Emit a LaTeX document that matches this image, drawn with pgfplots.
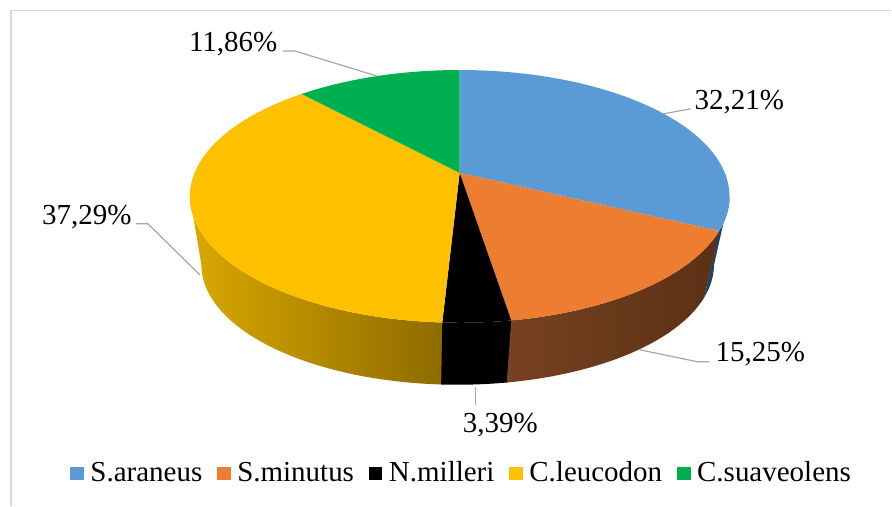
\documentclass[border=0pt]{standalone}
\usepackage{pgfplots}
\usepackage{pgfplotstable}
\pgfplotsset{compat=1.18}
\usepackage{fontspec}
\setmainfont{Liberation Serif}
\definecolor{cBlue}{HTML}{5B9BD5}
\definecolor{cOrange}{HTML}{ED7D31}
\definecolor{cYellow}{HTML}{FFC000}
\definecolor{cGreen}{HTML}{00B050}
\definecolor{cLead}{HTML}{A6A6A6}
\definecolor{cFrame}{HTML}{D9D9D9}
\definecolor{cYsideL}{HTML}{DAA800}
\definecolor{cYsideR}{HTML}{8C6A00}
\definecolor{cOsideL}{HTML}{784220}
\definecolor{cOsideR}{HTML}{5A3015}
\definecolor{cBside}{HTML}{24405E}
\pgfplotstableread{
name pct
S.araneus 32.21
S.minutus 15.25
N.milleri 3.39
C.leucodon 37.29
C.suaveolens 11.86
}\piedata
\pgfplotstablegetelem{0}{pct}\of\piedata \let\pA\pgfplotsretval
\pgfplotstablegetelem{1}{pct}\of\piedata \let\pB\pgfplotsretval
\pgfplotstablegetelem{2}{pct}\of\piedata \let\pC\pgfplotsretval
\pgfplotstablegetelem{3}{pct}\of\piedata \let\pD\pgfplotsretval
\pgfplotstablegetelem{4}{pct}\of\piedata \let\pE\pgfplotsretval
\pgfmathsetmacro\tA{90}
\pgfmathsetmacro\tB{\tA-3.6*\pA}
\pgfmathsetmacro\tC{\tB-3.6*\pB}
\pgfmathsetmacro\tD{\tC-3.6*\pC}
\pgfmathsetmacro\tE{\tD-3.6*\pD}
\pgfmathsetmacro\tF{\tE-3.6*\pE}
\pgfmathsetmacro\tR{-asin(0.186)}
\pgfmathsetmacro\tL{-180-\tR}
\pgfmathsetmacro\tDx{\tD+0.8}
\pgfmathsetmacro\tCx{\tC+0.5}
\pgfmathsetmacro\tBx{\tB+0.5}
\newcommand\lblfont{\fontsize{29}{34}\selectfont}
\begin{document}
\begin{tikzpicture}
\begin{axis}[
  x=1pt, y=1pt, xmin=0, xmax=892, ymin=0, ymax=506, y dir=reverse,
  hide axis, clip=false, scale only axis,
  declare function={
    XT(\t)=460+265.3*cos(\t)/(1+0.186*sin(\t));
    YT(\t)=173-122.1*sin(\t)/(1+0.186*sin(\t));
    XB(\t)=458+252*cos(\t)/(1+0.186*sin(\t));
    YB(\t)=242.5-116*sin(\t)/(1+0.186*sin(\t));
    TS(\s,\a,\b)=(\s<=1)*((\a)+(\s)*((\b)-(\a)))+(\s>1)*((\b)-((\s)-1)*((\b)-(\a)));
    SX(\s,\a,\b)=(\s<=1)*XT(TS(\s,\a,\b))+(\s>1)*XB(TS(\s,\a,\b));
    SY(\s,\a,\b)=(\s<=1)*YT(TS(\s,\a,\b))+(\s>1)*YB(TS(\s,\a,\b));
  },
  every axis plot/.append style={forget plot},
  legend columns=-1,
  legend cell align=left,
  legend image code/.code={\fill[#1] (0pt,2pt) rectangle (14pt,15pt);},
  legend style={draw=none, fill=none, inner sep=0pt, outer sep=0pt,
    font=\lblfont, at={(0.07848,0.04743)}, anchor=south west,
    nodes={inner sep=0pt, anchor=base west, text depth=0pt},
    /tikz/every odd column/.append style={column sep=6.5pt},
    /tikz/every even column/.append style={column sep=14.5pt}},
]
% background and frame
\addplot[fill=white, draw=none] coordinates {(0,0) (892,0) (892,506) (0,506) (0,0)};
\addplot[cFrame, line width=1.3pt] coordinates {(11,506) (11,10.5) (892,10.5)};
% sides (visible front part)
\addplot[draw=none, left color=cYsideL, right color=cYsideR, domain=0:2, samples=241]
  ({SX(x,\tL,\tDx)},{SY(x,\tL,\tDx)});
\addplot[draw=none, fill=black, domain=0:2, samples=121]
  ({SX(x,\tD,\tCx)},{SY(x,\tD,\tCx)});
\addplot[draw=none, left color=cOsideL, right color=cOsideR, domain=0:2, samples=241]
  ({SX(x,\tC,\tBx)},{SY(x,\tC,\tBx)});
\addplot[draw=none, fill=cBside, domain=0:2, samples=121]
  ({SX(x,\tB,\tR)},{SY(x,\tB,\tR)});
% top faces
\addplot[draw=none, fill=cBlue, domain=\tB:\tA, samples=120] ({XT(x)},{YT(x)}) -- (axis cs:460,173) -- cycle;
\addplot[draw=none, fill=cOrange, domain=\tC:\tB, samples=80] ({XT(x)},{YT(x)}) -- (axis cs:460,173) -- cycle;
\addplot[draw=none, fill=black, domain=\tD:\tC, samples=20] ({XT(x)},{YT(x)}) -- (axis cs:460,173) -- cycle;
\addplot[draw=none, fill=cYellow, domain=\tE:\tD, samples=140] ({XT(x)},{YT(x)}) -- (axis cs:460,173) -- cycle;
\addplot[draw=none, fill=cGreen, domain=\tF:\tE, samples=60] ({XT(x)},{YT(x)}) -- (axis cs:460,173) -- cycle;
% leader lines
\addplot[cLead, line width=1.2pt] coordinates {(663,114) (691,109)};
\addplot[cLead, line width=1.2pt] coordinates {(283,51) (295,51) (377,76)};
\addplot[cLead, line width=1.2pt] coordinates {(136,224) (148,224) (200,275)};
\addplot[cLead, line width=1.2pt] coordinates {(640,350) (698,362) (710,362)};
\addplot[cLead, line width=1.2pt] coordinates {(476,387) (476,405)};
% labels
\node[anchor=base west, inner sep=0pt, font=\lblfont] at (axis cs:695,110) {32,21\%};
\node[anchor=base west, inner sep=0pt, font=\lblfont] at (axis cs:189,52) {11,86\%};
\node[anchor=base west, inner sep=0pt, font=\lblfont] at (axis cs:42,225) {37,29\%};
\node[anchor=base west, inner sep=0pt, font=\lblfont] at (axis cs:716,362) {15,25\%};
\node[anchor=base west, inner sep=0pt, font=\lblfont] at (axis cs:463,433) {3,39\%};
% legend
\addlegendimage{fill=cBlue, draw=none}
\addlegendimage{fill=cOrange, draw=none}
\addlegendimage{fill=black, draw=none}
\addlegendimage{fill=cYellow, draw=none}
\addlegendimage{fill=cGreen, draw=none}
\legend{S.araneus, S.minutus, N.milleri, C.leucodon, C.suaveolens}
\end{axis}
\end{tikzpicture}
\end{document}
